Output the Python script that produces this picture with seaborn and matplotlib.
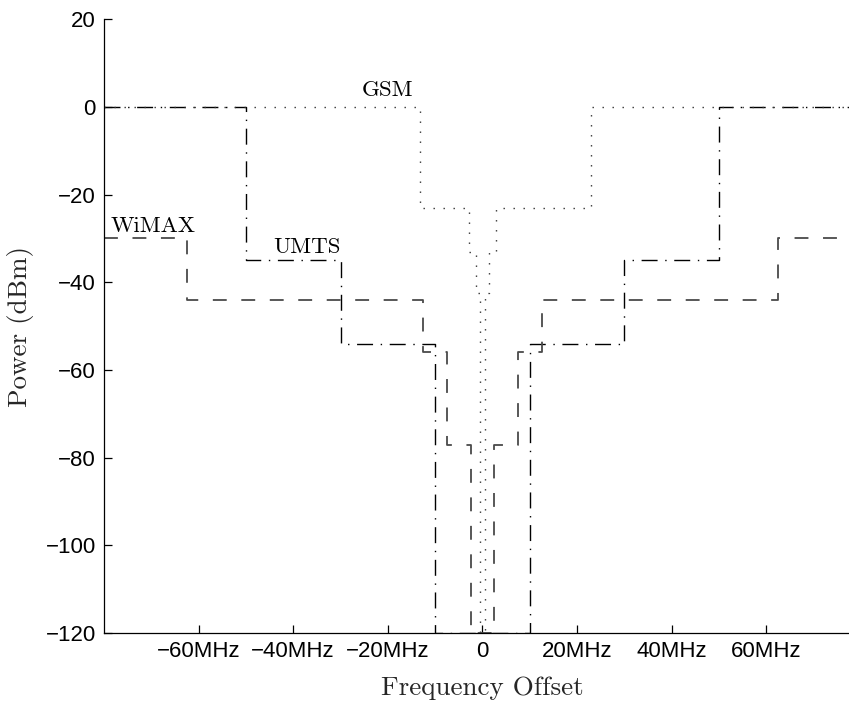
import matplotlib
matplotlib.use('Agg')
import matplotlib.pyplot as plt
import seaborn as sns

# step spectrum masks: band edges (MHz) and power level (dBm) between edges
gsm_edges = [-80, -13.1, -2.9, -1.35, -0.5, 0.5, 1.35, 2.9, 22.9, 80]
gsm_levels = [0, -23, -33, -42.5, -120, -42.5, -33, -23, 0]

umts_edges = [-80, -50, -30, -10, 10, 30, 50, 80]
umts_levels = [0, -35, -54, -120, -54, -35, 0]

wimax_edges = [-80, -62.5, -12.5, -7.5, -2.5, 2.5, 7.5, 12.5, 62.5, 80]
wimax_levels = [-30, -44, -56, -77, -120, -77, -56, -44, -30]

xticks = [-60, -40, -20, 0, 20, 40, 60]
xtick_labels = ['\u221260MHz', '\u221240MHz', '\u221220MHz', '0', '20MHz', '40MHz', '60MHz']
yticks = [-120, -100, -80, -60, -40, -20, 0, 20]

sns.set_style('ticks')
plt.rcParams['font.family'] = ['Liberation Sans', 'DejaVu Sans']
plt.rcParams['lines.scale_dashes'] = False

fig = plt.figure(figsize=(8.49, 7.02), dpi=100)
ax = fig.add_axes([0.1225, 0.0983, 0.8914, 0.8742])


def steps(edges, levels):
    return edges, levels + [levels[-1]]


x, y = steps(umts_edges, umts_levels)
sns.lineplot(x=x, y=y, ax=ax, drawstyle='steps-post', estimator=None, sort=False,
             color='black', linewidth=1.0, linestyle=(0, (11.5, 5.5, 1, 5.5)))

x, y = steps(gsm_edges, gsm_levels)
sns.lineplot(x=x, y=y, ax=ax, drawstyle='steps-post', estimator=None, sort=False,
             color='#333333', linewidth=1.0, linestyle=(0, (1, 6.2)))

x, y = steps(wimax_edges, wimax_levels)
sns.lineplot(x=x, y=y, ax=ax, drawstyle='steps-post', estimator=None, sort=False,
             color='#4a4a4a', linewidth=1.3, linestyle=(0, (10, 10.5)))

# series names written in the plot
lab_font = dict(family='cmr10', fontsize=16.5, color='black')
ax.text(-25.6, 2.6, 'GSM', **lab_font)
ax.text(-78.7, -28.6, 'WiMAX', **lab_font)
ax.text(-44.2, -33.2, 'UMTS', **lab_font)

ax.set_xlim(-80, 80)
ax.set_ylim(-120, 20)
ax.set_xticks(xticks)
ax.set_xticklabels(xtick_labels)
ax.set_yticks(yticks)
ax.tick_params(direction='in', length=6, width=0.9, labelsize=16, colors='black', pad=6)

ax.set_xlabel('Frequency Offset', family='cmr10', fontsize=19.5, labelpad=10)
ax.set_ylabel('Power (dBm)', family='cmr10', fontsize=19.5, labelpad=8)

sns.despine(ax=ax)
for s in ['left', 'bottom']:
    ax.spines[s].set_linewidth(0.9)
    ax.spines[s].set_color('black')
    ax.spines[s].set_zorder(5)

fig.savefig('out.png', dpi=100)
